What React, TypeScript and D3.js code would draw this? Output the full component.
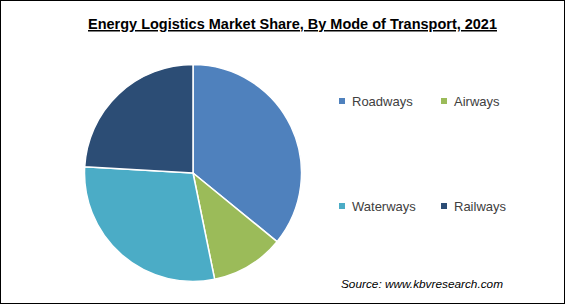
import React from "react";
import * as d3 from "d3";

const categories = ["Roadways", "Airways", "Waterways", "Railways"];
const values = [35.9, 10.9, 29.1, 24.1];
const colors = ["#4F81BD", "#9BBB59", "#4BACC6", "#2C4D75"];
const legendRows = [
  ["Roadways", "Airways"],
  ["Waterways", "Railways"],
];

export default function App() {
  const W = 565, H = 304;
  const cx = 193, cy = 173, r = 108.5;
  const pie = d3.pie<number>().sort(null).value((d) => d)(values);
  const arc = d3.arc<d3.PieArcDatum<number>>().innerRadius(0).outerRadius(r);
  const font = "'Liberation Sans', Arial, sans-serif";
  const colX = d3.scaleOrdinal<number, number>().domain([0, 1]).range([339, 441]);
  const rowY = d3.scaleOrdinal<number, number>().domain([0, 1]).range([101, 206]);
  return (
    <svg width={W} height={H} style={{ position: "absolute", left: 0, top: 0, background: "#fff" }}>
      <rect x={0.5} y={0.5} width={W - 1} height={H - 1} fill="#fff" stroke="#000" strokeWidth={1} />
      <text x={88} y={29} fontFamily={font} fontWeight="bold" fontSize={15} textLength={409} lengthAdjust="spacingAndGlyphs" fill="#000" textDecoration="underline">
        Energy Logistics Market Share, By Mode of Transport, 2021
      </text>
      <g transform={`translate(${cx},${cy})`}>
        {pie.map((p, i) => (
          <path key={categories[i]} d={arc(p) || ""} fill={colors[i]} stroke="#fff" strokeWidth={1.5} strokeLinejoin="round" />
        ))}
      </g>
      {legendRows.map((row, ri) =>
        row.map((name, ci) => {
          const idx = categories.indexOf(name);
          const x = colX(ci);
          const y = rowY(ri);
          return (
            <g key={name}>
              <rect x={x} y={y - 3} width={6} height={6} fill={colors[idx]} />
              <text x={x + 13} y={y + 4.5} fontFamily={font} fontSize={13} fill="#404040">{name}</text>
            </g>
          );
        })
      )}
      <text x={341} y={288} fontFamily={font} fontStyle="italic" fontSize={11} textLength={162} lengthAdjust="spacingAndGlyphs" fill="#000">
        Source:  www.kbvresearch.com
      </text>
    </svg>
  );
}
